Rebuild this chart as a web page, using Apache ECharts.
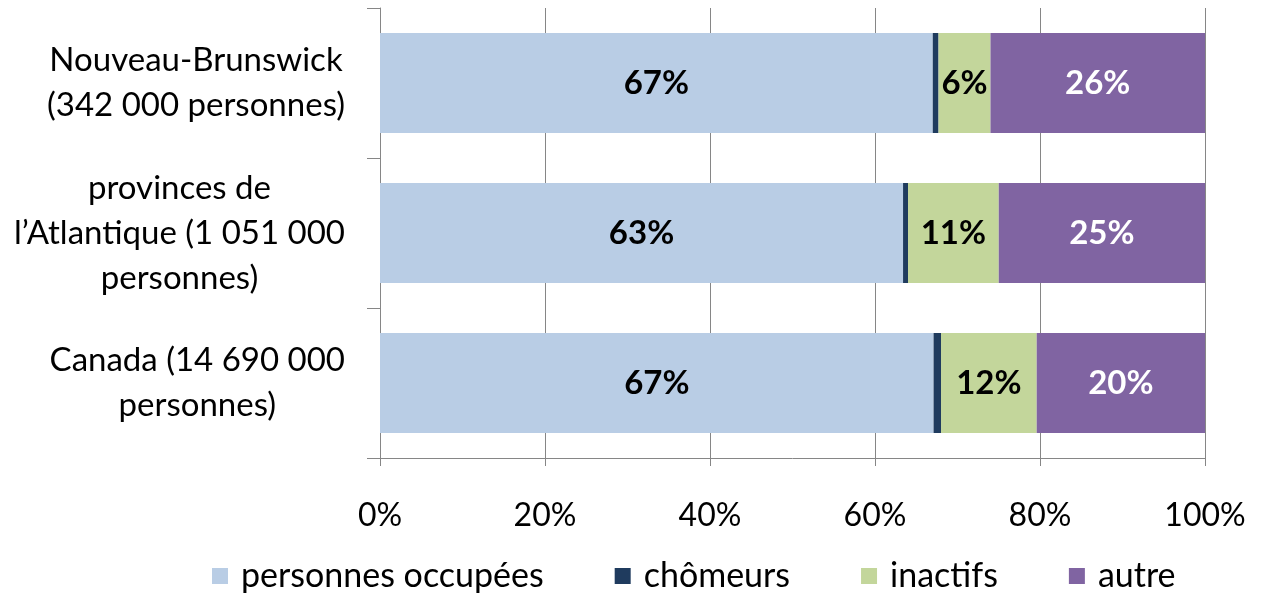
<!DOCTYPE html>
<html>
<head>
<meta charset="utf-8">
<script src="https://cdn.jsdelivr.net/npm/echarts@6/dist/echarts.min.js"></script>
<style>
  html, body { margin: 0; padding: 0; background: #fff; }
  #chart { width: 1267px; height: 598px; }
</style>
</head>
<body>
<div id="chart"></div>
<script>
// categories, top to bottom
const categories = [
  ['Nouveau-Brunswick', '(342 000 personnes)'],
  ['provinces de', 'l\u2019Atlantique (1 051 000', 'personnes)'],
  ['Canada (14 690 000', 'personnes)'],
]
const seriesNames = ['personnes occupées', 'chômeurs', 'inactifs', 'autre']
// shares in %
const occupees = [67.0, 63.4, 67.1]
const chomeurs = [0.7, 0.6, 0.9]
const inactifs = [6.3, 11.0, 11.6]
const autre = [26.0, 25.0, 20.4]
const xTicks = [0, 20, 40, 60, 80, 100]

const colors = ['#B9CDE5', '#1F3B5E', '#C3D69B', '#8064A2']
const FONT = 'Lato'

const chart = echarts.init(document.getElementById('chart'), null, { renderer: 'canvas' })

const makeSeries = (name, data, idx, labelColor) => ({
  name,
  type: 'bar',
  stack: 'total',
  barWidth: 100,
  data,
  itemStyle: { color: colors[idx] },
  label: {
    show: labelColor !== null,
    position: 'inside',
    color: labelColor || '#000',
    fontFamily: FONT,
    fontWeight: 'bold',
    fontSize: 33,
    formatter: (p) => Math.round(p.value) + '%',
  },
  emphasis: { disabled: true },
})

chart.setOption({
  animation: false,
  textStyle: { fontFamily: FONT },
  grid: { left: 380, right: 62, top: 8, bottom: 140 },
  legend: {
    bottom: 0,
    left: 207,
    itemWidth: 16,
    itemHeight: 16,
    itemGap: 71,
    icon: 'rect',
    textStyle: { fontFamily: FONT, fontSize: 34, color: '#000', padding: [0, 0, 0, 8] },
    data: seriesNames,
  },
  xAxis: {
    type: 'value',
    min: xTicks[0],
    max: xTicks[xTicks.length - 1],
    interval: 20,
    axisLine: { show: true, lineStyle: { color: '#868686' } },
    axisTick: { show: true, length: 8, lineStyle: { color: '#868686' } },
    splitLine: { show: true, lineStyle: { color: '#868686', width: 1 } },
    axisLabel: {
      margin: 42,
      color: '#000',
      fontFamily: FONT,
      fontSize: 32,
      formatter: '{value}%',
    },
  },
  yAxis: {
    type: 'category',
    inverse: true,
    data: categories.map((c) => c.join('\n')),
    axisLine: { show: true, lineStyle: { color: '#868686' } },
    axisTick: { show: true, length: 13, lineStyle: { color: '#868686' } },
    axisLabel: {
      margin: 35,
      align: 'right',
      formatter: (v) => v.split('\n').map((l) => '{c|' + l + '}').join('\n'),
      rich: {
        c: { align: 'center', fontFamily: FONT, fontSize: 33, lineHeight: 45, color: '#000' },
      },
    },
  },
  series: [
    makeSeries(seriesNames[0], occupees, 0, '#000'),
    makeSeries(seriesNames[1], chomeurs, 1, null),
    makeSeries(seriesNames[2], inactifs, 2, '#000'),
    makeSeries(seriesNames[3], autre, 3, '#fff'),
  ],
})
</script>
</body>
</html>
